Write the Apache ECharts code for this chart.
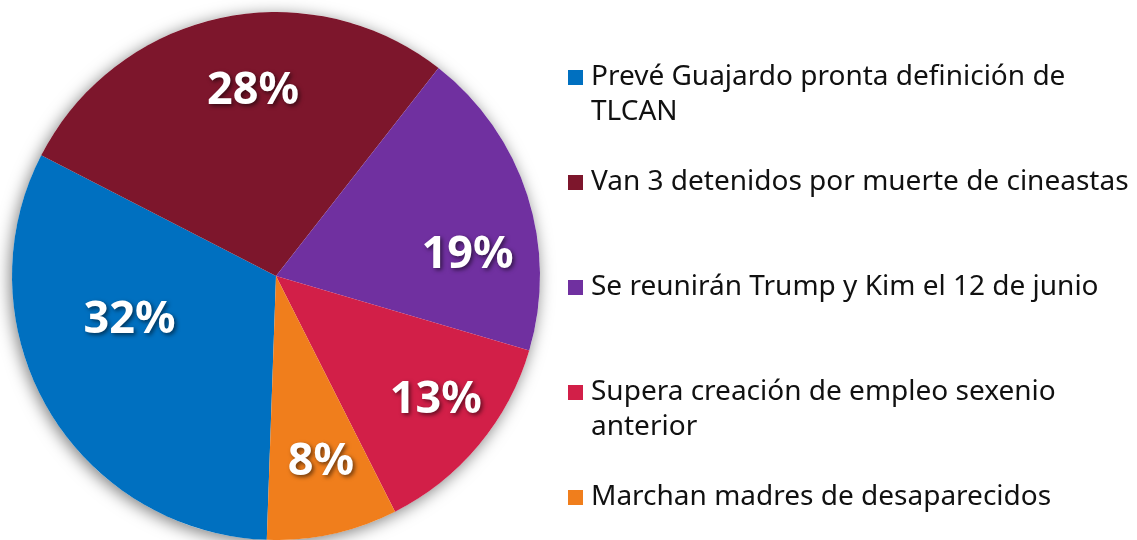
<!DOCTYPE html>
<html>
<head>
<meta charset="utf-8">
<script src="https://cdn.jsdelivr.net/npm/echarts@6/dist/echarts.min.js"></script>
<style>
  html, body { margin: 0; padding: 0; background: #fff; }
  #chart { width: 1137px; height: 540px; }
</style>
</head>
<body>
<div id="chart"></div>
<script>
// noticias y su porcentaje
const categories = [
  'Prevé Guajardo pronta definición de\nTLCAN',
  'Van 3 detenidos por muerte de cineastas',
  'Se reunirán Trump y Kim el 12 de junio',
  'Supera creación de empleo sexenio\nanterior',
  'Marchan madres de desaparecidos'
];
const shares = [32, 28, 19, 13, 8];
const palette = ['#0070C0', '#7D162C', '#7030A0', '#D21F48', '#F07E1C'];

// ajuste de las etiquetas dentro de cada rebanada
const labelNudge = [[-30, -24], [6, -53], [63, 20], [56, 38], [16, 54]];
// posicion vertical de cada entrada de la leyenda
const legendTops = [25, 165, 270, 340, 480];

var myChart = echarts.init(document.getElementById('chart'));

let pieData = [];
for (let i = 0; i < categories.length; i++) {
  pieData.push({
    name: categories[i],
    value: shares[i],
    itemStyle: { color: palette[i] },
    label: { offset: labelNudge[i] }
  });
}

let legends = categories.map(function (name, i) {
  let twoLines = name.indexOf('\n') >= 0;
  return {
    data: [name],
    orient: 'vertical',
    left: 568,
    top: legendTops[i],
    padding: 0,
    icon: 'rect',
    itemWidth: 15,
    itemHeight: 15,
    selectedMode: false,
    // linea vacia arriba para que el cuadrito quede con la primera linea
    formatter: function (n) {
      return twoLines ? '\n' + n : n;
    },
    textStyle: {
      fontFamily: 'Noto Sans',
      fontSize: 28,
      lineHeight: 35,
      color: '#111',
      padding: [0, 0, 0, 3]
    }
  };
});

var option = {
  animation: false,
  backgroundColor: '#fff',
  legend: legends,
  series: [
    {
      // disco de fondo solo para la sombra
      type: 'pie',
      silent: true,
      center: [276, 276],
      radius: [0, 264],
      label: { show: false },
      labelLine: { show: false },
      itemStyle: {
        color: '#fff',
        shadowBlur: 16,
        shadowColor: 'rgba(0,0,0,0.5)',
        shadowOffsetX: -2,
        shadowOffsetY: 3
      },
      data: [{ name: '_bg', value: 1 }]
    },
    {
      type: 'pie',
      center: [276, 276],
      radius: [0, 264],
      startAngle: 268,
      clockwise: true,
      itemStyle: { borderWidth: 0 },
      label: {
        show: true,
        position: 'inside',
        formatter: '{c}%',
        fontFamily: 'Noto Sans',
        fontWeight: 'bold',
        fontSize: 45,
        color: '#fff',
        textShadowColor: 'rgba(0,0,0,0.55)',
        textShadowBlur: 4,
        textShadowOffsetX: 2,
        textShadowOffsetY: 2
      },
      labelLine: { show: false },
      emphasis: { disabled: true },
      data: pieData
    }
  ]
};

option && myChart.setOption(option);
</script>
</body>
</html>
